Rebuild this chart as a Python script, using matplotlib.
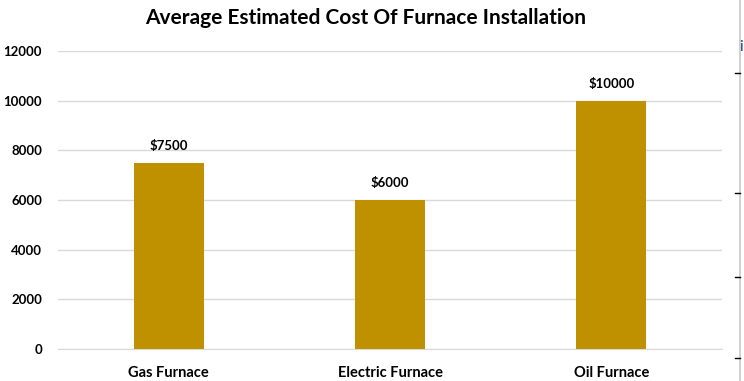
import matplotlib
matplotlib.use("Agg")
import matplotlib.pyplot as plt
from matplotlib.lines import Line2D

categories = ["Gas Furnace", "Electric Furnace", "Oil Furnace"]
costs = [7500, 6000, 10000]
bar_labels = ["$7500", "$6000", "$10000"]
yticks = [0, 2000, 4000, 6000, 8000, 10000, 12000]

plt.rcParams['font.family'] = ['Lato', 'DejaVu Sans']

fig = plt.figure(figsize=(7.44, 3.81), dpi=100)
W, H = 744, 381
left, right, top, bottom = 58, 722, 51, 349
ax = fig.add_axes([left / W, 1 - bottom / H, (right - left) / W, (bottom - top) / H])

x = range(len(categories))
bars = ax.bar(x, costs, width=0.316, color="#bf9000", zorder=3)
for b, lab in zip(bars, bar_labels):
    ax.annotate(lab, (b.get_x() + b.get_width() / 2, b.get_height()),
                xytext=(0, 8), textcoords="offset points", ha="center", va="bottom",
                fontsize=9.5, fontweight="bold", color="#000000")

ax.set_xlim(-0.5, 2.5)
ax.set_ylim(0, 12000)
ax.set_yticks(yticks)
ax.set_yticklabels([str(v) for v in yticks], fontsize=9.5, fontweight="bold")
ax.set_xticks(list(x))
ax.set_xticklabels(categories, fontsize=10.5, fontweight="bold")
ax.grid(axis="y", color="#d9d9d9", linewidth=1, zorder=0)
for s in ["top", "right", "left"]:
    ax.spines[s].set_visible(False)
ax.spines["bottom"].set_color("#d9d9d9")
ax.tick_params(axis="both", length=0)
ax.tick_params(axis="y", pad=11.5)
ax.tick_params(axis="x", pad=12)

fig.text(366 / W, 1 - 18 / H, "Average Estimated Cost Of Furnace Installation",
         ha="center", va="center", fontsize=15, fontweight="bold")

# right-edge artifact: vertical line with ticks
fig.add_artist(Line2D([740 / W, 740 / W], [0, 1], color="#c8c8c8", linewidth=1.2))
for yy in [73, 193, 277, 358]:
    fig.add_artist(Line2D([735 / W, 740 / W], [1 - yy / H, 1 - yy / H], color="#000000", linewidth=1))
fig.text(741 / W, 1 - 47 / H, "i", color="#1f3f8f", fontsize=11, ha="center", va="center")

fig.savefig("out.png", dpi=100)
